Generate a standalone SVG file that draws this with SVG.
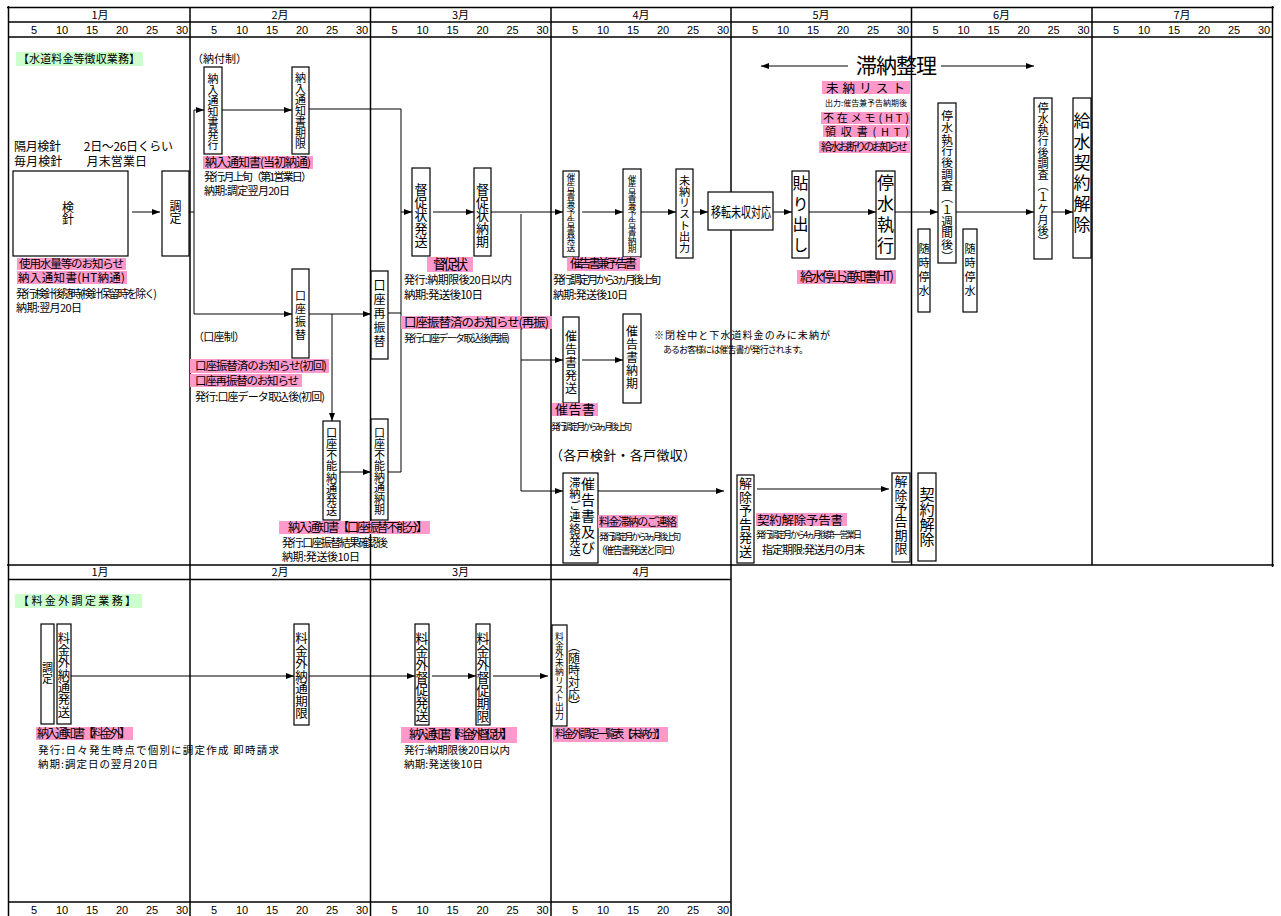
<svg xmlns="http://www.w3.org/2000/svg" width="1281" height="916" viewBox="0 0 1281 916">
<style>
text{font-family:"Noto Sans CJK JP","Noto Sans CJK SC",sans-serif;fill:#000}
.hd{font-family:"Liberation Sans","Noto Sans CJK JP",sans-serif;font-size:11px;text-anchor:middle}
.mo{font-size:11px;text-anchor:middle}
.bx{fill:#fff;stroke:#000;stroke-width:1.2}
.ln{fill:none;stroke:#000;stroke-width:1}
.ar{fill:none;stroke:#000;stroke-width:1;marker-end:url(#ah)}
.fr{fill:none;stroke:#000;stroke-width:1.5}
.pk{fill:#ff99cc}
.gr{fill:#ccffcc}
.v{writing-mode:vertical-rl;text-anchor:start}
</style>
<defs>
<marker id="ah" viewBox="0 0 8 6" refX="8" refY="3" markerWidth="8" markerHeight="6" markerUnits="userSpaceOnUse" orient="auto"><path d="M0,0L8,3L0,6z"/></marker>
</defs>
<rect x="0" y="0" width="1281" height="916" fill="#fff"/>

<g id="frame">
<line class="fr" x1="7" y1="7.5" x2="1274" y2="7.5" stroke-width="2.5"/>
<line class="fr" x1="8.5" y1="6" x2="8.5" y2="916" stroke-width="2"/>
<line class="fr" x1="1272.5" y1="6" x2="1272.5" y2="567" stroke-width="3"/>
<line class="fr" x1="8" y1="22" x2="1272" y2="22" stroke-width="1"/>
<line class="fr" x1="8" y1="37" x2="1272" y2="37"/>
<line class="fr" x1="190" y1="7" x2="190" y2="565"/>
<line class="fr" x1="370.5" y1="7" x2="370.5" y2="565"/>
<line class="fr" x1="551" y1="7" x2="551" y2="565"/>
<line class="fr" x1="731" y1="7" x2="731" y2="565"/>
<line class="fr" x1="911.5" y1="7" x2="911.5" y2="565" stroke-width="2"/>
<line class="fr" x1="1092" y1="7" x2="1092" y2="565"/>
<line class="fr" x1="7" y1="565" x2="1274" y2="565" stroke-width="3"/>
<line class="fr" x1="8" y1="579.5" x2="731" y2="579.5"/>
<line class="fr" x1="8" y1="902" x2="731" y2="902"/>
<line class="fr" x1="190" y1="565" x2="190" y2="916"/>
<line class="fr" x1="370.5" y1="565" x2="370.5" y2="916"/>
<line class="fr" x1="551" y1="565" x2="551" y2="916"/>
<line class="fr" x1="731" y1="565" x2="731" y2="916" stroke-width="2"/>
</g>

<g id="header">
<text class="mo" y="19"><tspan x="100">1月</tspan><tspan x="280">2月</tspan><tspan x="460.5">3月</tspan><tspan x="641">4月</tspan><tspan x="821">5月</tspan><tspan x="1001.5">6月</tspan><tspan x="1182">7月</tspan></text>
<text class="hd" y="34"><tspan x="34">5</tspan><tspan x="62">10</tspan><tspan x="92">15</tspan><tspan x="122">20</tspan><tspan x="152">25</tspan><tspan x="182">30</tspan><tspan x="214">5</tspan><tspan x="242">10</tspan><tspan x="272">15</tspan><tspan x="302">20</tspan><tspan x="332">25</tspan><tspan x="362">30</tspan><tspan x="394.5">5</tspan><tspan x="422.5">10</tspan><tspan x="452.5">15</tspan><tspan x="482.5">20</tspan><tspan x="512.5">25</tspan><tspan x="542.5">30</tspan><tspan x="575">5</tspan><tspan x="603">10</tspan><tspan x="633">15</tspan><tspan x="663">20</tspan><tspan x="693">25</tspan><tspan x="723">30</tspan><tspan x="755">5</tspan><tspan x="783">10</tspan><tspan x="813">15</tspan><tspan x="843">20</tspan><tspan x="873">25</tspan><tspan x="903">30</tspan><tspan x="935.5">5</tspan><tspan x="963.5">10</tspan><tspan x="993.5">15</tspan><tspan x="1023.5">20</tspan><tspan x="1053.5">25</tspan><tspan x="1083.5">30</tspan><tspan x="1116">5</tspan><tspan x="1144">10</tspan><tspan x="1174">15</tspan><tspan x="1204">20</tspan><tspan x="1234">25</tspan><tspan x="1264">30</tspan></text>
<text class="mo" y="576"><tspan x="100">1月</tspan><tspan x="280">2月</tspan><tspan x="460.5">3月</tspan><tspan x="641">4月</tspan></text>
<text class="hd" y="914"><tspan x="34">5</tspan><tspan x="62">10</tspan><tspan x="92">15</tspan><tspan x="122">20</tspan><tspan x="152">25</tspan><tspan x="182">30</tspan><tspan x="214">5</tspan><tspan x="242">10</tspan><tspan x="272">15</tspan><tspan x="302">20</tspan><tspan x="332">25</tspan><tspan x="362">30</tspan><tspan x="394.5">5</tspan><tspan x="422.5">10</tspan><tspan x="452.5">15</tspan><tspan x="482.5">20</tspan><tspan x="512.5">25</tspan><tspan x="542.5">30</tspan><tspan x="575">5</tspan><tspan x="603">10</tspan><tspan x="633">15</tspan><tspan x="663">20</tspan><tspan x="693">25</tspan><tspan x="723">30</tspan></text>
</g>

<g id="connectors">
<line class="ar" x1="132" y1="212" x2="160" y2="212"/>
<line class="ln" x1="189" y1="212" x2="194" y2="212"/>
<line class="ln" x1="194" y1="110" x2="194" y2="314"/>
<line class="ar" x1="194" y1="110" x2="204" y2="110"/>
<line class="ar" x1="194" y1="314" x2="292" y2="314"/>
<line class="ar" x1="222" y1="110" x2="292" y2="110"/>
<polyline class="ln" points="309,109 401,109 401,472 388,472"/>
<line class="ln" x1="388" y1="313" x2="401" y2="313"/>
<line class="ar" x1="401" y1="212" x2="412" y2="212"/>
<line class="ar" x1="309" y1="314" x2="371" y2="314"/>
<line class="ar" x1="332" y1="314" x2="332" y2="421"/>
<line class="ar" x1="340" y1="472" x2="371" y2="472"/>
<line class="ar" x1="433" y1="212" x2="474" y2="212"/>
<line class="ar" x1="491" y1="212" x2="563" y2="212"/>
<line class="ln" x1="521" y1="214" x2="521" y2="491"/>
<line class="ar" x1="521" y1="360" x2="563" y2="360"/>
<line class="ar" x1="521" y1="491" x2="563" y2="491"/>
<line class="ar" x1="582" y1="212" x2="623" y2="212"/>
<line class="ar" x1="641" y1="212" x2="676" y2="212"/>
<line class="ar" x1="693" y1="212" x2="708" y2="212"/>
<line class="ar" x1="773" y1="212" x2="792" y2="212"/>
<line class="ar" x1="809" y1="212" x2="876" y2="212"/>
<line class="ar" x1="895" y1="212" x2="938" y2="212"/>
<line class="ar" x1="956" y1="212" x2="1034" y2="212"/>
<line class="ar" x1="1052" y1="212" x2="1073" y2="212"/>
<line class="ar" x1="582" y1="360" x2="623" y2="360"/>
<line class="ar" x1="598" y1="491" x2="724" y2="491"/>
<line class="ar" x1="757" y1="489" x2="889" y2="489"/>
<line class="ar" x1="848" y1="66" x2="761" y2="66"/>
<line class="ar" x1="941" y1="66" x2="1034" y2="66"/>
<line class="ar" x1="71" y1="676" x2="294" y2="676"/>
<line class="ar" x1="309" y1="676" x2="415" y2="676"/>
<line class="ar" x1="432" y1="676" x2="476" y2="676"/>
<line class="ar" x1="493" y1="676" x2="548" y2="676"/>
</g>

<g id="kenshin"><rect class="bx" x="13" y="171" width="115" height="85"/><text class="v" x="68" y="201" font-size="12">検針</text></g>
<g id="chotei"><rect class="bx" x="162" y="171" width="27" height="85"/><text class="v" x="175.5" y="200" font-size="12">調定</text></g>
<g id="nottsu-hakko"><rect class="bx" x="204" y="67" width="18" height="87"/><text class="v" x="213" y="73" font-size="11">納入通知書発行</text></g>
<g id="nottsu-kigen"><rect class="bx" x="292" y="67" width="17" height="87"/><text class="v" x="300.5" y="72" font-size="11">納入通知書期限</text></g>
<g id="koza-furikae"><rect class="bx" x="292" y="269" width="17" height="89"/><text class="v" x="300.5" y="290" font-size="11" letter-spacing="2">口座振替</text></g>
<g id="koza-saifurikae"><rect class="bx" x="371" y="271" width="17" height="88"/><text class="v" x="379.5" y="279" font-size="12" letter-spacing="2">口座再振替</text></g>
<g id="funo-hasso"><rect class="bx" x="323" y="421" width="17" height="99"/><text class="v" x="331.5" y="427" font-size="11.2">口座不能納通発送</text></g>
<g id="funo-noki"><rect class="bx" x="371" y="419" width="17" height="101"/><text class="v" x="379.5" y="427" font-size="11">口座不能納通納期</text></g>
<g id="tokusoku-hasso"><rect class="bx" x="412" y="168" width="18" height="88"/><text class="v" x="421" y="183" font-size="13">督促状発送</text></g>
<g id="tokusoku-noki"><rect class="bx" x="474" y="168" width="17" height="88"/><text class="v" x="482.5" y="183" font-size="13">督促状納期</text></g>
<g id="saikoku-yokoku-hasso"><rect class="bx" x="563" y="171" width="16" height="86"/><text class="v" x="571" y="173" font-size="8.8">催告書兼予告書発送</text></g>
<g id="saikoku-yokoku-noki"><rect class="bx" x="623" y="169" width="18" height="88"/><text class="v" x="632" y="175" font-size="8.7">催告書兼予告書納期</text></g>
<g id="mino-list"><rect class="bx" x="676" y="169" width="17" height="89"/><text class="v" x="684.5" y="175" font-size="11.2">未納リスト出力</text></g>
<g id="iten"><rect class="bx" x="708" y="192" width="65" height="38"/><text x="711" y="217" font-size="14" textLength="60" lengthAdjust="spacingAndGlyphs">移転未収対応</text></g>
<g id="haridashi"><rect class="bx" x="792" y="171" width="17" height="87"/><text class="v" x="800.5" y="175" font-size="16" letter-spacing="4.5">貼り出し</text></g>
<g id="teisui"><rect class="bx" x="876" y="171" width="19" height="88"/><text class="v" x="885.5" y="174" font-size="17" letter-spacing="4">停水執行</text></g>
<g id="chosa-1w"><rect class="bx" x="938" y="103" width="18" height="160"/><text class="v" x="947" y="110" font-size="11.7">停水執行後調査（１週間後）</text></g>
<g id="chosa-1m"><rect class="bx" x="1034" y="98" width="18" height="161"/><text class="v" x="1043" y="102" font-size="11.2">停水執行後調査（１ケ月後）</text></g>
<g id="kyusui-kaijo"><rect class="bx" x="1073" y="98" width="18" height="160"/><text class="v" x="1082" y="112" font-size="17" letter-spacing="3.8">給水契約解除</text></g>
<g id="zuiji-1"><rect class="bx" x="918" y="229" width="12" height="83"/><text class="v" x="924" y="243" font-size="11" letter-spacing="3">随時停水</text></g>
<g id="zuiji-2"><rect class="bx" x="963" y="229" width="14" height="83"/><text class="v" x="970" y="243" font-size="11" letter-spacing="3">随時停水</text></g>
<g id="saikoku-hasso"><rect class="bx" x="563" y="317" width="16" height="86"/><text class="v" x="571" y="330" font-size="12" letter-spacing="1">催告書発送</text></g>
<g id="saikoku-noki"><rect class="bx" x="623" y="314" width="18" height="89"/><text class="v" x="632" y="325" font-size="12" letter-spacing="1">催告書納期</text></g>
<g id="saikoku-tainou"><rect class="bx" x="563" y="473" width="35" height="90"/><text class="v" x="588" y="477" font-size="14" letter-spacing="2">催告書及び</text><text class="v" x="575" y="477" font-size="11.4">滞納ご連絡発送</text></g>
<g id="kaijo-yokoku-hasso"><rect class="bx" x="737" y="475" width="17" height="88"/><text class="v" x="745.5" y="477" font-size="13" letter-spacing="0.5">解除予告発送</text></g>
<g id="kaijo-yokoku-kigen"><rect class="bx" x="892" y="473" width="18" height="89"/><text class="v" x="901" y="475" font-size="13" letter-spacing="0.3">解除予告期限</text></g>
<g id="keiyaku-kaijo"><rect class="bx" x="918" y="473" width="18" height="88"/><text class="v" x="927" y="487" font-size="15">契約解除</text></g>

<g id="b-chotei"><rect class="bx" x="41" y="624" width="13" height="100"/><text class="v" x="47.5" y="662" font-size="11">調定</text></g>
<g id="b-nottsu-hasso"><rect class="bx" x="57" y="624" width="14" height="100"/><text class="v" x="64" y="632" font-size="12.3">料金外納通発送</text></g>
<g id="b-nottsu-kigen"><rect class="bx" x="294" y="624" width="15" height="101"/><text class="v" x="301.5" y="632" font-size="12.5">料金外納通期限</text></g>
<g id="b-tokusoku-hasso"><rect class="bx" x="415" y="624" width="14" height="101"/><text class="v" x="422" y="632" font-size="12.8">料金外督促発送</text></g>
<g id="b-tokusoku-kigen"><rect class="bx" x="476" y="624" width="14" height="101"/><text class="v" x="483" y="632" font-size="13">料金外督促期限</text></g>
<g id="b-mino-list"><rect class="bx" x="552" y="625" width="15" height="101"/><text class="v" x="559.5" y="632" font-size="8.8">料金外未納リスト出力</text></g>

<g id="labels">
<rect class="gr" x="16" y="52" width="127" height="14"/>
<text x="18" y="63" font-size="11" textLength="122">【水道料金等徴収業務】</text>
<text x="192" y="63" font-size="11" textLength="55">（納付制）</text>
<text x="14" y="151" font-size="12" textLength="159">隔月検針　　2日～26日くらい</text>
<text x="14" y="166" font-size="12" textLength="133">毎月検針　　月末営業日</text>
<rect class="pk" x="17" y="258" width="109" height="12"/>
<text x="19" y="268" font-size="11.5" textLength="105">使用水量等のお知らせ</text>
<rect class="pk" x="17" y="271" width="110" height="13"/>
<text x="18" y="282" font-size="11.5" textLength="107">納入通知書(HT納通)</text>
<text x="16" y="298" font-size="11" textLength="141">発行:検針後随時(検針保留時を除く)</text>
<text x="16" y="312" font-size="11" textLength="66">納期:翌月20日</text>
<rect class="pk" x="203" y="156" width="110" height="13"/>
<text x="205" y="166.5" font-size="12" textLength="106">納入通知書(当初納通)</text>
<text x="204" y="181" font-size="11" textLength="108">発行:月上旬（第1営業日）</text>
<text x="204" y="195" font-size="11" textLength="86">納期:調定翌月20日</text>
<text x="193" y="341" font-size="11" textLength="52">（口座制）</text>
<rect class="pk" x="190" y="359" width="139" height="14"/>
<text x="195" y="370" font-size="11.5" textLength="132">口座振替済のお知らせ(初回)</text>
<rect class="pk" x="190" y="374" width="112" height="13"/>
<text x="195" y="384.5" font-size="11.5" textLength="104">口座再振替のお知らせ</text>
<text x="195" y="401" font-size="11" textLength="130">発行:口座データ取込後(初回)</text>
<rect class="pk" x="279" y="521" width="151" height="13"/>
<text x="288" y="531.5" font-size="12" textLength="140">納入通知書【口座振替不能分】</text>
<text x="282" y="546.5" font-size="11" textLength="106">発行:口座振替結果確認後</text>
<text x="282" y="561" font-size="11" textLength="78">納期:発送後10日</text>
<rect class="pk" x="427" y="257" width="46" height="15"/>
<text x="433" y="269" font-size="13.5" textLength="35">督促状</text>
<text x="404" y="284" font-size="11" textLength="108">発行:納期限後20日以内</text>
<text x="404" y="299" font-size="11.5" textLength="79">納期:発送後10日</text>
<rect class="pk" x="401" y="316" width="151" height="13"/>
<text x="404" y="327" font-size="12.5" textLength="145">口座振替済のお知らせ(再振)</text>
<text x="404" y="342" font-size="10" textLength="106">発行:口座データ取込後(再振)</text>
<rect class="pk" x="567" y="257" width="73" height="14"/>
<text x="570" y="268" font-size="12.5" textLength="67">催告書兼予告書</text>
<text x="553" y="283.5" font-size="11" textLength="108">発行:調定月から3ヵ月後上旬</text>
<text x="553" y="299" font-size="11" textLength="75">納期:発送後10日</text>
<rect class="pk" x="552" y="403" width="46" height="13"/>
<text x="555" y="414" font-size="13" textLength="40">催告書</text>
<text x="551" y="430" font-size="9" textLength="81">発行:調定月から3ヵ月後上旬</text>
<text x="654" y="339" font-size="10" textLength="176">※閉栓中と下水道料金のみに未納が</text>
<text x="663" y="353" font-size="9" textLength="145">あるお客様には催告書が発行されます。</text>
<text x="550" y="460" font-size="13" textLength="146">（各戸検針・各戸徴収）</text>
<rect class="pk" x="598" y="515" width="80" height="13"/>
<text x="599" y="526" font-size="11" textLength="78">料金滞納のご連絡</text>
<text x="599" y="540" font-size="9" textLength="82">発行:調定月から3ヵ月後上旬</text>
<text x="596" y="554" font-size="10" textLength="85">（催告書発送と同日）</text>
<text x="856" y="73" font-size="21" textLength="81">滞納整理</text>
<rect class="pk" x="822" y="81" width="88" height="13"/>
<text x="826" y="92.5" font-size="12.5" textLength="79">未納リスト</text>
<text x="825" y="106" font-size="8" textLength="82">出力:催告兼予告納期後</text>
<rect class="pk" x="821" y="112" width="89" height="12"/>
<text x="823" y="121.5" font-size="11" textLength="86">不在メモ(HT)</text>
<rect class="pk" x="823" y="125" width="87" height="12"/>
<text x="825" y="135.5" font-size="11" textLength="84">領収書(HT)</text>
<rect class="pk" x="819" y="141" width="91" height="12"/>
<text x="821" y="151" font-size="11" textLength="87">給水お断りのお知らせ</text>
<rect class="pk" x="797" y="270" width="99" height="14"/>
<text x="800" y="281" font-size="13" textLength="94">給水停止通知書(HT)</text>
<rect class="pk" x="756" y="513" width="91" height="13"/>
<text x="757" y="524.5" font-size="12.5" textLength="86">契約解除予告書</text>
<text x="756" y="537.5" font-size="9" textLength="106">発行:調定月から4ヵ月後第一営業日</text>
<text x="762" y="554" font-size="11" textLength="103">指定期限:発送月の月末</text>

<rect class="gr" x="15" y="594" width="127" height="14"/>
<text x="18" y="605" font-size="11" textLength="118">【料金外調定業務】</text>
<rect class="pk" x="36" y="727" width="97" height="13"/>
<text x="37" y="738" font-size="12" textLength="94">納入通知書【料金外】</text>
<text x="38" y="753.5" font-size="10.5" textLength="241">発行:日々発生時点で個別に調定作成 即時請求</text>
<text x="38" y="768" font-size="10.5" textLength="120">納期:調定日の翌月20日</text>
<rect class="pk" x="401" y="727" width="116" height="16"/>
<text x="409" y="739" font-size="12" textLength="104">納入通知書【料金外督促状】</text>
<text x="404" y="754" font-size="10.5" textLength="106">発行:納期限後20日以内</text>
<text x="404" y="768" font-size="10.5" textLength="79">納期:発送後10日</text>
<rect class="pk" x="553" y="727" width="115" height="15"/>
<text x="555" y="738" font-size="11" textLength="111">料金外調定一覧表【未納分】</text>
<text class="v" x="574" y="640" font-size="12">（随時対応）</text>
</g>
</svg>
